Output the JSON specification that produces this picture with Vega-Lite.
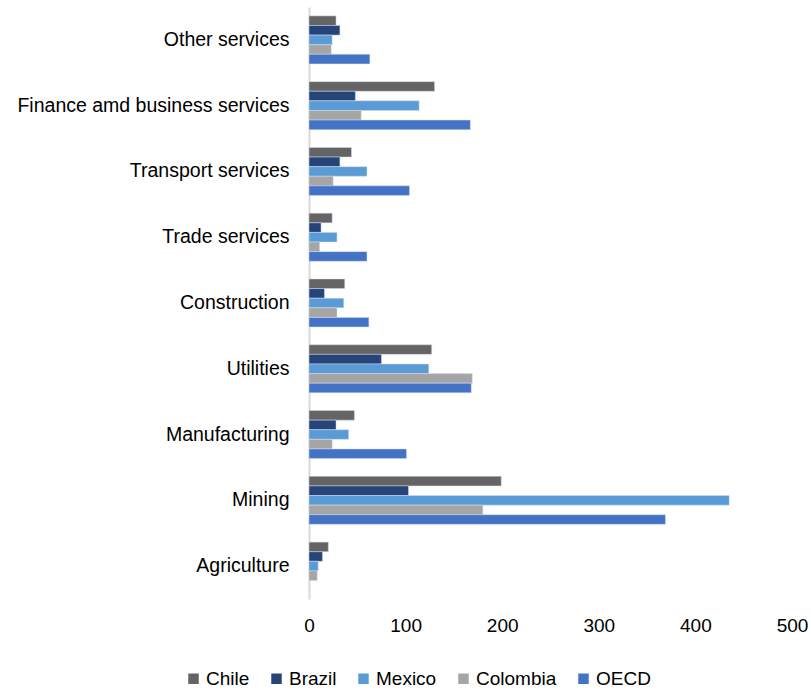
{
  "$schema": "https://vega.github.io/schema/vega-lite/v6.json",
  "autosize": "none",
  "width": 483,
  "height": 592,
  "padding": {"left": 309, "top": 7, "right": 19, "bottom": 92},
  "background": "white",
  "config": {
    "font": "Liberation Sans",
    "view": {"stroke": null}
  },
  "data": {
    "values": [
      {"sector": "Other services", "country": "Chile", "value": 28},
      {"sector": "Other services", "country": "Brazil", "value": 32},
      {"sector": "Other services", "country": "Mexico", "value": 24},
      {"sector": "Other services", "country": "Colombia", "value": 23},
      {"sector": "Other services", "country": "OECD", "value": 63},
      {"sector": "Finance amd business services", "country": "Chile", "value": 130},
      {"sector": "Finance amd business services", "country": "Brazil", "value": 48},
      {"sector": "Finance amd business services", "country": "Mexico", "value": 114},
      {"sector": "Finance amd business services", "country": "Colombia", "value": 54},
      {"sector": "Finance amd business services", "country": "OECD", "value": 167},
      {"sector": "Transport services", "country": "Chile", "value": 44},
      {"sector": "Transport services", "country": "Brazil", "value": 32},
      {"sector": "Transport services", "country": "Mexico", "value": 60},
      {"sector": "Transport services", "country": "Colombia", "value": 25},
      {"sector": "Transport services", "country": "OECD", "value": 104},
      {"sector": "Trade services", "country": "Chile", "value": 24},
      {"sector": "Trade services", "country": "Brazil", "value": 12.5},
      {"sector": "Trade services", "country": "Mexico", "value": 29},
      {"sector": "Trade services", "country": "Colombia", "value": 11},
      {"sector": "Trade services", "country": "OECD", "value": 60},
      {"sector": "Construction", "country": "Chile", "value": 37},
      {"sector": "Construction", "country": "Brazil", "value": 16},
      {"sector": "Construction", "country": "Mexico", "value": 36},
      {"sector": "Construction", "country": "Colombia", "value": 29},
      {"sector": "Construction", "country": "OECD", "value": 62},
      {"sector": "Utilities", "country": "Chile", "value": 127},
      {"sector": "Utilities", "country": "Brazil", "value": 75},
      {"sector": "Utilities", "country": "Mexico", "value": 124},
      {"sector": "Utilities", "country": "Colombia", "value": 169},
      {"sector": "Utilities", "country": "OECD", "value": 168},
      {"sector": "Manufacturing", "country": "Chile", "value": 47},
      {"sector": "Manufacturing", "country": "Brazil", "value": 28},
      {"sector": "Manufacturing", "country": "Mexico", "value": 41},
      {"sector": "Manufacturing", "country": "Colombia", "value": 24},
      {"sector": "Manufacturing", "country": "OECD", "value": 101},
      {"sector": "Mining", "country": "Chile", "value": 199},
      {"sector": "Mining", "country": "Brazil", "value": 103},
      {"sector": "Mining", "country": "Mexico", "value": 435},
      {"sector": "Mining", "country": "Colombia", "value": 180},
      {"sector": "Mining", "country": "OECD", "value": 369},
      {"sector": "Agriculture", "country": "Chile", "value": 20},
      {"sector": "Agriculture", "country": "Brazil", "value": 14},
      {"sector": "Agriculture", "country": "Mexico", "value": 9.5},
      {"sector": "Agriculture", "country": "Colombia", "value": 8.5},
      {"sector": "Agriculture", "country": "OECD", "value": 0}
    ]
  },
  "layer": [
    {
      "mark": {"type": "bar", "stroke": "#d0dcef", "strokeWidth": 0.5},
      "encoding": {
        "y": {
          "field": "sector",
          "type": "nominal",
          "sort": ["Other services", "Finance amd business services", "Transport services", "Trade services", "Construction", "Utilities", "Manufacturing", "Mining", "Agriculture"],
          "scale": {"paddingInner": 0.27, "paddingOuter": 0.135},
          "axis": {
            "title": null,
            "labelFontSize": 19.5,
            "labelColor": "#000000",
            "labelPadding": 20,
            "ticks": false,
            "domain": true,
            "domainColor": "#d9d9d9",
            "domainWidth": 2,
            "labelLimit": 400
          }
        },
        "yOffset": {
          "field": "country",
          "type": "nominal",
          "sort": ["Chile", "Brazil", "Mexico", "Colombia", "OECD"],
          "scale": {"paddingInner": 0, "paddingOuter": 0}
        },
        "x": {
          "field": "value",
          "type": "quantitative",
          "scale": {"domain": [0, 500], "nice": false},
          "axis": {
            "title": null,
            "values": [0, 100, 200, 300, 400, 500],
            "labelFontSize": 19,
            "labelColor": "#000000",
            "labelPadding": 17,
            "labelFlush": false,
            "ticks": false,
            "domain": false,
            "grid": false
          }
        },
        "color": {
          "field": "country",
          "type": "nominal",
          "sort": ["Chile", "Brazil", "Mexico", "Colombia", "OECD"],
          "scale": {
            "domain": ["Chile", "Brazil", "Mexico", "Colombia", "OECD"],
            "range": ["#646464", "#264478", "#5b9bd5", "#a5a5a5", "#4472c4"]
          },
          "legend": {
            "title": null,
            "orient": "none",
            "direction": "horizontal",
            "legendX": -125,
            "legendY": 662,
            "symbolType": "square",
            "symbolSize": 110,
            "symbolStrokeWidth": 0,
            "labelFontSize": 19,
            "labelColor": "#000000",
            "labelOffset": 3,
            "columnPadding": 17,
            "symbolOffset": 0
          }
        }
      }
    }
  ]
}
